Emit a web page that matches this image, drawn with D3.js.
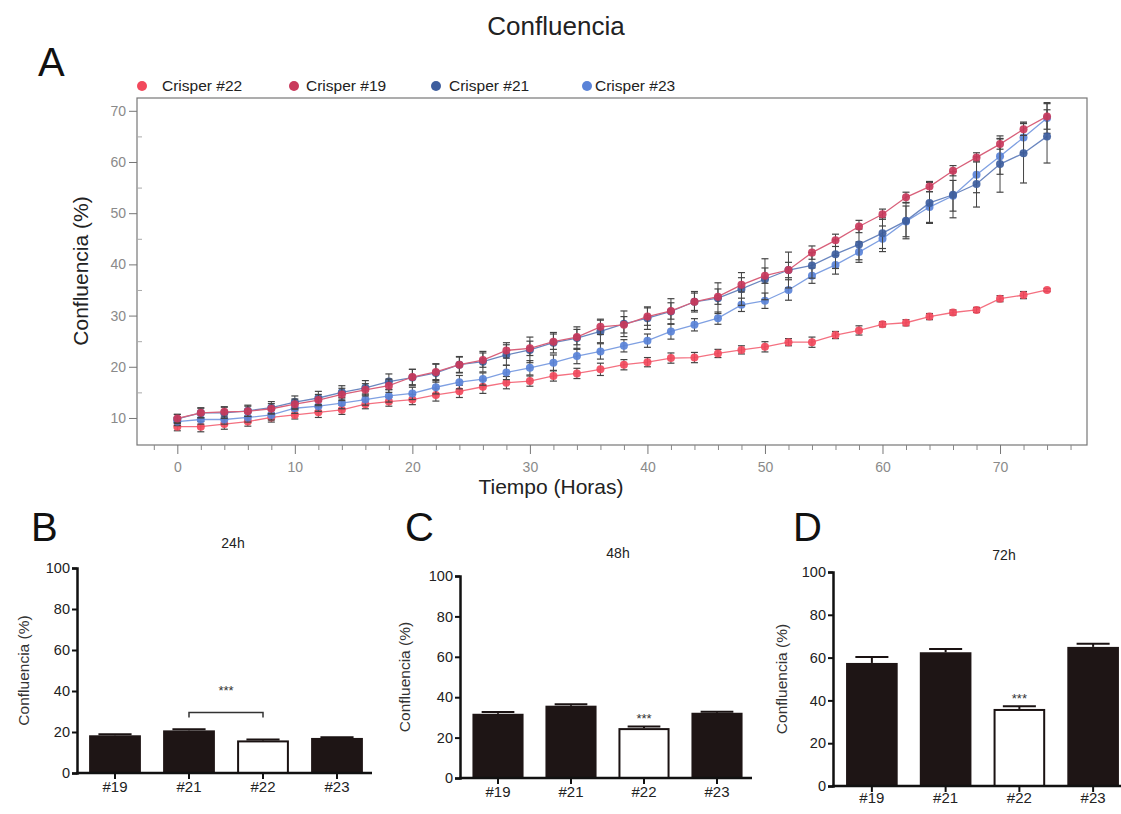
<!DOCTYPE html>
<html>
<head>
<meta charset="utf-8">
<script src="https://d3js.org/d3.v7.min.js"></script>
<style>
  html, body { margin: 0; padding: 0; background: #fff; }
  svg { display: block; font-family: "Liberation Sans", Arial, sans-serif; }
</style>
</head>
<body>
<svg id="chart" width="1121" height="814"></svg>
<script>
// ---------------- DATA ----------------
const hours = d3.range(0, 75, 2); // 0..74 step 2
const seriesNames = ["Crisper #22", "Crisper #19", "Crisper #21", "Crisper #23"];
const c22 = [8.3,8.3,8.8,9.3,10.1,10.6,11.1,11.6,12.7,13.2,13.6,14.5,15.2,16.1,16.9,17.2,18.2,18.7,19.5,20.4,20.9,21.7,21.8,22.6,23.3,23.9,24.8,24.8,26.2,27.1,28.3,28.6,29.8,30.6,31.1,33.3,34.0,35.0];
const c19 = [9.9,11.0,11.2,11.3,11.8,12.7,13.5,14.6,15.5,16.3,18.0,19.0,20.4,21.3,23.2,23.6,24.9,25.8,27.8,28.2,29.8,30.9,32.7,33.7,36.0,37.8,38.9,42.3,44.7,47.4,49.8,53.1,55.2,58.3,60.9,63.5,66.4,68.9];
const c21 = [9.8,11.0,11.0,11.4,12.0,13.1,13.9,15.0,15.9,17.1,17.9,18.8,20.4,21.0,22.3,23.3,24.7,25.6,26.9,28.4,29.5,30.8,32.7,33.4,35.2,37.1,38.9,39.8,42.0,43.9,46.1,48.5,52.0,53.6,55.7,59.6,61.7,65.0];
const c23 = [9.3,9.7,9.7,10.1,10.6,11.9,12.3,12.9,13.6,14.3,14.8,16.0,17.0,17.6,18.9,19.8,20.8,22.1,23.0,24.1,25.1,26.9,28.2,29.5,32.1,32.9,35.0,37.8,39.9,42.4,45.0,48.4,51.2,53.4,57.5,61.1,64.8,68.6];
const e22 = [0.8,1.0,1.0,0.9,0.9,0.8,1.0,0.9,0.9,0.9,1.0,1.2,1.2,1.3,1.2,1.0,1.0,1.0,1.2,1.0,0.9,1.0,1.0,0.8,0.8,1.0,0.7,1.0,0.7,0.9,0.5,0.6,0.6,0.5,0.5,0.6,0.7,0.3];
const e19 = [0.8,0.9,1.0,1.0,1.0,1.0,1.1,1.2,1.2,1.3,1.5,1.5,1.5,1.4,1.5,1.4,1.5,1.5,1.5,1.6,1.7,1.6,1.7,1.5,1.4,1.5,1.5,1.3,1.2,1.2,1.0,1.0,1.0,1.0,0.9,1.0,1.2,2.5];
const e21 = [0.9,1.0,1.1,1.1,1.2,1.2,1.3,1.3,1.4,1.5,1.6,1.8,1.6,2.0,2.0,2.5,2.0,2.2,2.2,2.5,2.2,2.5,2.0,3.0,3.2,4.0,3.5,2.5,2.8,3.0,3.0,3.5,4.0,4.5,4.5,5.5,5.8,5.2];
const e23 = [0.8,0.9,0.9,0.9,1.0,1.0,1.0,1.1,1.1,1.2,1.2,1.3,1.3,1.2,1.4,1.4,1.5,1.5,1.5,1.2,1.3,1.5,1.2,1.2,1.3,1.5,2.0,1.5,1.8,2.0,2.5,3.0,3.0,3.0,3.5,3.5,3.0,3.0];
const xTicks = [0,10,20,30,40,50,60,70];
const yTicks = [10,20,30,40,50,60,70];

const barCats = ["#19", "#21", "#22", "#23"];
const panelTitles = ["24h", "48h", "72h"];
const panelLetters = ["B", "C", "D"];
const bar24 = [18.4, 20.8, 15.9, 17.1];
const err24 = [0.5, 0.5, 0.4, 0.4];
const bar48 = [31.8, 35.8, 24.7, 32.3];
const err48 = [0.9, 0.7, 0.8, 0.5];
const bar72 = [57.5, 62.5, 36.0, 65.0];
const err72 = [2.8, 1.5, 1.3, 1.5];
const barTicks = [0, 20, 40, 60, 80, 100];

// ---------------- STYLE ----------------
const colors = { "Crisper #22": "#f2495c", "Crisper #19": "#c93a5c", "Crisper #21": "#3e5e9e", "Crisper #23": "#5a83d8" };
const lineColors = { "Crisper #22": "#f47080", "Crisper #19": "#d8607a", "Crisper #21": "#6a86bf", "Crisper #23": "#7fa0e2" };

const svg = d3.select("#chart");

// ---------------- PANEL A ----------------
svg.append("text").attr("x", 556).attr("y", 35).attr("text-anchor", "middle")
  .attr("font-size", 26).attr("fill", "#222").text("Confluencia");
svg.append("text").attr("x", 38).attr("y", 76).attr("font-size", 40).attr("fill", "#111").text("A");

const x = d3.scaleLinear().domain([-3.43, 77.4]).range([137, 1087]);
const y = d3.scaleLinear().domain([4.72, 72.5]).range([445, 98]);

const gA = svg.append("g");
// frame
gA.append("rect").attr("x", 137).attr("y", 98).attr("width", 1087 - 137).attr("height", 445 - 98)
  .attr("fill", "none").attr("stroke", "#777").attr("stroke-width", 1.2);

// x axis
const xAxis = d3.axisBottom(x).tickValues(xTicks).tickSize(9).tickFormat(d3.format("d"));
const gx = gA.append("g").attr("transform", "translate(0,445)").call(xAxis);
gx.select(".domain").remove();
gx.selectAll(".tick line").attr("stroke", "#777");
gx.selectAll(".tick text").attr("fill", "#8a8a8a").attr("font-size", 14).attr("dy", "1.1em");
const gxm = gA.append("g").attr("transform", "translate(0,445)")
  .call(d3.axisBottom(x).tickValues(d3.range(-2, 77, 2).filter(v => v % 10 !== 0)).tickSize(5).tickFormat(""));
gxm.select(".domain").remove();
gxm.selectAll(".tick line").attr("stroke", "#888");

// y axis
const yAxis = d3.axisLeft(y).tickValues(yTicks).tickSize(8).tickFormat(d3.format("d"));
const gy = gA.append("g").attr("transform", "translate(137,0)").call(yAxis);
gy.select(".domain").remove();
gy.selectAll(".tick line").attr("stroke", "#777");
gy.selectAll(".tick text").attr("fill", "#8a8a8a").attr("font-size", 14);
const gym = gA.append("g").attr("transform", "translate(137,0)")
  .call(d3.axisRight(y).tickValues([15,25,35,45,55,65]).tickSize(5).tickFormat(""));
gym.select(".domain").remove();
gym.selectAll(".tick line").attr("stroke", "#aaa");

// axis titles
svg.append("text").attr("x", 551).attr("y", 494).attr("text-anchor", "middle")
  .attr("font-size", 21).attr("fill", "#222").text("Tiempo (Horas)");
svg.append("text").attr("transform", "translate(88,271) rotate(-90)").attr("text-anchor", "middle")
  .attr("font-size", 21).attr("fill", "#222").text("Confluencia (%)");

// series
const seriesData = [
  { name: "Crisper #22", vals: c22, errs: e22 },
  { name: "Crisper #19", vals: c19, errs: e19 },
  { name: "Crisper #21", vals: c21, errs: e21 },
  { name: "Crisper #23", vals: c23, errs: e23 }
];
const line = d3.line().x(d => x(d.h)).y(d => y(d.v));
const drawOrder = ["Crisper #22", "Crisper #23", "Crisper #21", "Crisper #19"];
drawOrder.forEach(name => {
  const s = seriesData.find(d => d.name === name);
  const pts = hours.map((h, i) => ({ h, v: s.vals[i], e: s.errs[i] }));
  const g = gA.append("g");
  g.append("path").datum(pts).attr("d", line).attr("fill", "none")
    .attr("stroke", lineColors[name]).attr("stroke-width", 1.3);
  const eb = g.selectAll(".eb").data(pts).enter().append("g");
  eb.append("line").attr("x1", d => x(d.h)).attr("x2", d => x(d.h))
    .attr("y1", d => y(d.v - d.e)).attr("y2", d => y(d.v + d.e)).attr("stroke", "#444").attr("stroke-width", 1);
  eb.append("line").attr("x1", d => x(d.h) - 3.5).attr("x2", d => x(d.h) + 3.5)
    .attr("y1", d => y(d.v + d.e)).attr("y2", d => y(d.v + d.e)).attr("stroke", "#444").attr("stroke-width", 1.2);
  eb.append("line").attr("x1", d => x(d.h) - 3.5).attr("x2", d => x(d.h) + 3.5)
    .attr("y1", d => y(d.v - d.e)).attr("y2", d => y(d.v - d.e)).attr("stroke", "#444").attr("stroke-width", 1.2);
  g.selectAll("circle").data(pts).enter().append("circle")
    .attr("cx", d => x(d.h)).attr("cy", d => y(d.v)).attr("r", 4)
    .attr("fill", colors[name]).attr("fill-opacity", 0.92);
});

// legend
const legendPos = [[142, 162], [294, 306], [436, 449], [587, 595]];
seriesNames.forEach((name, i) => {
  svg.append("circle").attr("cx", legendPos[i][0]).attr("cy", 86).attr("r", 5).attr("fill", colors[name]);
  svg.append("text").attr("x", legendPos[i][1]).attr("y", 91).attr("font-size", 15.5)
    .attr("fill", "#222").text(name);
});

// ---------------- PANELS B, C, D ----------------
const panels = [
  { vals: bar24, errs: err24, axisX: 77, xEnd: 372, y0: 773, y100: 568, bandRange: [78, 374],
    titleX: 233, titleY: 548, letterX: 31, letterY: 541, ylabX: 24, xlabY: 792, stars: "bracket" },
  { vals: bar48, errs: err48, axisX: 460, xEnd: 752, y0: 778, y100: 576, bandRange: [461.5, 753.5],
    titleX: 618, titleY: 558, letterX: 405, letterY: 541, ylabX: 405, xlabY: 797, stars: "top" },
  { vals: bar72, errs: err72, axisX: 833, xEnd: 1121, y0: 786, y100: 572, bandRange: [835, 1130],
    titleX: 1004, titleY: 560, letterX: 793, letterY: 541, ylabX: 782, xlabY: 803, stars: "top" }
];

panels.forEach((p, pi) => {
  const g = svg.append("g");
  const yb = d3.scaleLinear().domain([0, 100]).range([p.y0, p.y100]);
  const xb = d3.scaleBand().domain(barCats).range(p.bandRange).paddingInner(0.3).paddingOuter(0.15);

  g.append("text").attr("x", p.letterX).attr("y", p.letterY).attr("font-size", 40).attr("fill", "#111").text(panelLetters[pi]);
  g.append("text").attr("x", p.titleX).attr("y", p.titleY).attr("text-anchor", "middle")
    .attr("font-size", 14).attr("fill", "#222").text(panelTitles[pi]);
  g.append("text").attr("transform", `translate(${p.ylabX},${(p.y0 + p.y100) / 2}) rotate(-90)`)
    .attr("text-anchor", "middle").attr("dy", "0.35em").attr("font-size", 15.5).attr("fill", "#333").text("Confluencia (%)");

  // bars
  barCats.forEach((c, i) => {
    const v = p.vals[i], e = p.errs[i];
    const cx = xb(c) + xb.bandwidth() / 2;
    const isWhite = c === "#22";
    // error bar (upper)
    g.append("line").attr("x1", cx).attr("x2", cx).attr("y1", yb(v)).attr("y2", yb(v + e))
      .attr("stroke", "#1a1212").attr("stroke-width", 2);
    g.append("line").attr("x1", cx - xb.bandwidth() * 0.32).attr("x2", cx + xb.bandwidth() * 0.32)
      .attr("y1", yb(v + e)).attr("y2", yb(v + e)).attr("stroke", "#1a1212").attr("stroke-width", 2);
    g.append("rect").attr("x", xb(c) + (isWhite ? 1 : 0)).attr("y", yb(v) + (isWhite ? 1 : 0))
      .attr("width", xb.bandwidth() - (isWhite ? 2 : 0)).attr("height", yb(0) - yb(v) - (isWhite ? 1 : 0))
      .attr("fill", isWhite ? "#fff" : "#1e1515").attr("stroke", isWhite ? "#1a1212" : "none").attr("stroke-width", 2);
  });

  // y axis
  const gyb = g.append("g").attr("transform", `translate(${p.axisX},0)`)
    .call(d3.axisLeft(yb).tickValues(barTicks).tickSize(5).tickPadding(2));
  gyb.select(".domain").attr("stroke", "#111").attr("stroke-width", 2.5);
  gyb.selectAll(".tick line").attr("stroke", "#111").attr("stroke-width", 2);
  gyb.selectAll(".tick text").attr("font-size", 14.5).attr("fill", "#222");

  // x axis
  g.append("line").attr("x1", p.axisX - 1).attr("x2", p.xEnd).attr("y1", p.y0).attr("y2", p.y0)
    .attr("stroke", "#111").attr("stroke-width", 2.5);
  barCats.forEach(c => {
    const cx = xb(c) + xb.bandwidth() / 2;
    g.append("line").attr("x1", cx).attr("x2", cx).attr("y1", p.y0).attr("y2", p.y0 + 6)
      .attr("stroke", "#111").attr("stroke-width", 2);
    g.append("text").attr("x", cx).attr("y", p.xlabY).attr("text-anchor", "middle")
      .attr("font-size", 15).attr("fill", "#222").text(c);
  });

  // significance
  const i22 = barCats.indexOf("#22");
  const cx22 = xb("#22") + xb.bandwidth() / 2;
  if (p.stars === "bracket") {
    const cx21 = xb("#21") + xb.bandwidth() / 2;
    const by = yb(29.5);
    g.append("path").attr("d", `M${cx21},${by + 5}V${by}H${cx22}V${by + 5}`)
      .attr("fill", "none").attr("stroke", "#333").attr("stroke-width", 1.5);
    g.append("text").attr("x", (cx21 + cx22) / 2).attr("y", yb(38)).attr("text-anchor", "middle")
      .attr("font-size", 13).attr("fill", "#333").text("***");
  } else {
    g.append("text").attr("x", cx22).attr("y", yb(p.vals[i22] + p.errs[i22]) - 3).attr("text-anchor", "middle")
      .attr("font-size", 13).attr("fill", "#333").text("***");
  }
});
</script>
</body>
</html>
